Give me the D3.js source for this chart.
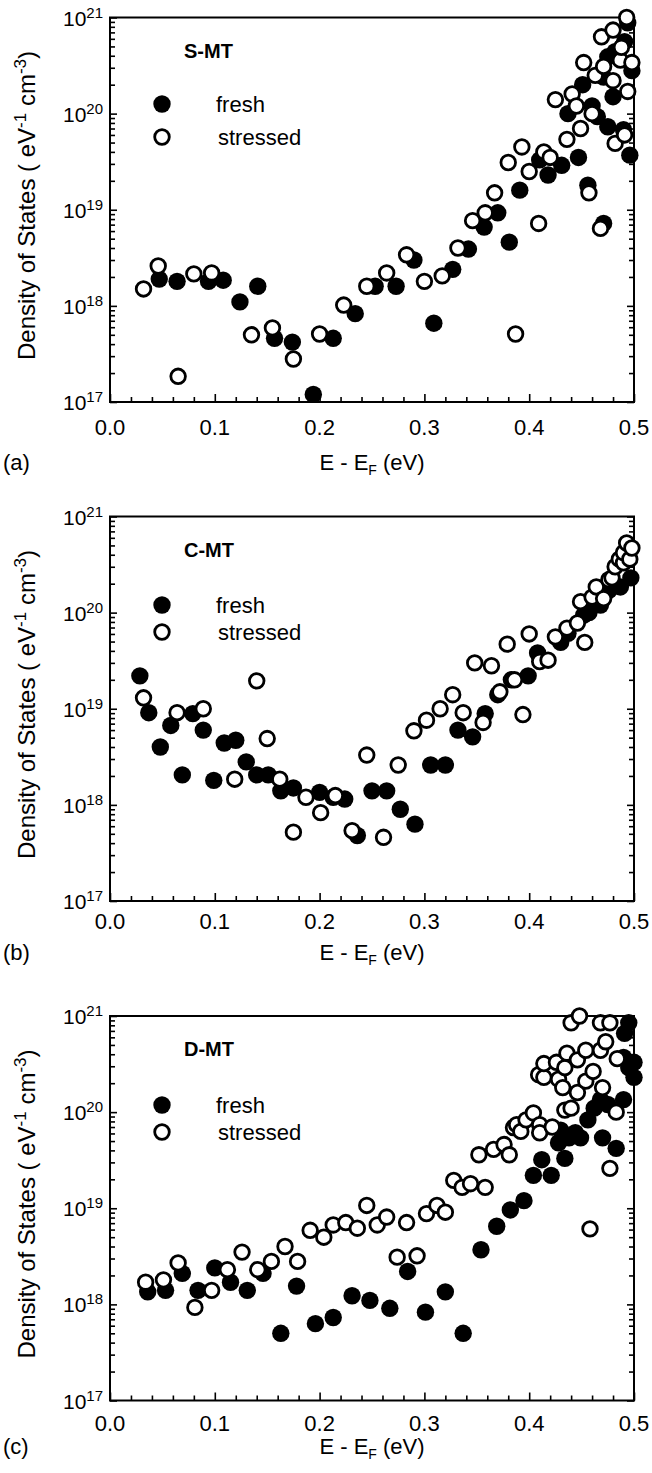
<!DOCTYPE html>
<html><head><meta charset="utf-8">
<script src="https://cdn.jsdelivr.net/npm/d3@7"></script>
<style>
body{margin:0;background:#fff}
text{font-family:Arial,"Liberation Sans",sans-serif;fill:#000}
</style>
</head><body>
<svg id="c" width="652" height="1473"></svg>
<script>
// ---------- data ----------
const panelLabels = ["(a)", "(b)", "(c)"];
const panelTitles = ["S-MT", "C-MT", "D-MT"];
const seriesNames = ["fresh", "stressed"];
const xTickValues = [0, 0.1, 0.2, 0.3, 0.4, 0.5];
const xTickLabels = ["0.0", "0.1", "0.2", "0.3", "0.4", "0.5"];
const yTickExponents = [17, 18, 19, 20, 21];

// Panel (a) S-MT
const aFreshE = [0.047,0.064,0.094,0.108,0.124,0.141,0.157,0.174,0.194,0.213,0.234,0.253,0.273,0.29,0.309,0.327,0.342,0.357,0.37,0.381,0.391,0.41,0.418,0.431,0.437,0.447,0.451,0.456,0.46,0.465,0.471,0.471,0.475,0.475,0.48,0.482,0.49,0.491,0.494,0.496,0.498];
const aFreshV = [1.9e18,1.8e18,1.8e18,1.85e18,1.1e18,1.6e18,4.6e17,4.2e17,1.2e17,4.6e17,8.3e17,1.6e18,1.6e18,3.0e18,6.6e17,2.4e18,3.9e18,6.6e18,9.3e18,4.6e18,1.6e19,3.3e19,2.3e19,2.9e19,1.0e20,3.5e19,2.0e20,1.8e19,1.2e20,9.3e19,7.2e18,2.4e20,7.3e19,3.9e20,1.5e20,4.4e20,6.8e19,5.6e20,8.8e20,3.7e19,2.8e20];
const aStressE = [0.032,0.046,0.065,0.08,0.097,0.135,0.155,0.175,0.2,0.223,0.245,0.264,0.283,0.30,0.317,0.332,0.346,0.358,0.367,0.38,0.387,0.393,0.40,0.409,0.414,0.42,0.425,0.436,0.441,0.445,0.449,0.452,0.457,0.46,0.463,0.468,0.469,0.471,0.48,0.48,0.482,0.487,0.488,0.491,0.493,0.494,0.498];
const aStressV = [1.5e18,2.6e18,1.85e17,2.15e18,2.2e18,5.0e17,5.9e17,2.8e17,5.1e17,1.02e18,1.6e18,2.2e18,3.4e18,1.8e18,2.05e18,4.0e18,7.7e18,9.3e18,1.5e19,3.1e19,5.1e17,4.5e19,2.5e19,7.2e18,4.0e19,3.5e19,1.4e20,5.4e19,1.6e20,1.2e20,7.0e19,3.4e20,1.5e19,1.0e20,2.5e20,6.4e18,6.3e20,3.1e20,2.2e20,7.4e20,4.9e19,3.6e20,4.9e20,6.0e19,1.0e21,1.7e20,3.4e20];

// Panel (b) C-MT
const bFreshE = [0.0285,0.037,0.048,0.058,0.069,0.079,0.089,0.099,0.109,0.12,0.13,0.14,0.151,0.163,0.175,0.2,0.213,0.224,0.236,0.25,0.264,0.277,0.291,0.306,0.32,0.332,0.346,0.358,0.37,0.383,0.399,0.408,0.43,0.437,0.452,0.457,0.468,0.476,0.487,0.497];
const bFreshV = [2.2e19,9.1e18,4.0e18,6.7e18,2.05e18,8.9e18,6.0e18,1.8e18,4.4e18,4.7e18,2.8e18,2.05e18,2.05e18,1.4e18,1.5e18,1.35e18,1.2e18,1.15e18,4.8e17,1.4e18,1.4e18,9.0e17,6.3e17,2.6e18,2.6e18,6.0e18,5.1e18,8.9e18,1.4e19,2.0e19,2.2e19,3.8e19,4.9e19,6.1e19,9.4e19,1.0e20,1.2e20,1.7e20,1.85e20,2.3e20];
const bStressE = [0.032,0.064,0.089,0.119,0.14,0.15,0.162,0.175,0.187,0.201,0.215,0.231,0.245,0.261,0.275,0.29,0.302,0.315,0.327,0.337,0.348,0.356,0.364,0.372,0.379,0.386,0.394,0.40,0.41,0.418,0.425,0.436,0.446,0.449,0.453,0.46,0.464,0.471,0.476,0.479,0.482,0.486,0.49,0.49,0.493,0.496,0.498];
const bStressV = [1.3e19,9.1e18,1.0e19,1.85e18,1.95e19,4.9e18,1.85e18,5.2e17,1.2e18,8.3e17,1.25e18,5.4e17,3.3e18,4.6e17,2.6e18,5.9e18,7.6e18,1.0e19,1.4e19,9.1e18,3.0e19,7.2e18,2.8e19,1.5e19,4.7e19,2.0e19,8.7e18,6.0e19,3.1e19,3.2e19,5.6e19,6.9e19,7.8e19,1.3e20,4.9e19,1.45e20,1.85e20,1.4e20,2.2e20,2.3e20,3.0e20,3.6e20,3.3e20,4.2e20,5.3e20,3.6e20,4.7e20];

// Panel (c) D-MT
const cFreshE = [0.036,0.053,0.069,0.084,0.1,0.115,0.131,0.146,0.163,0.178,0.196,0.213,0.231,0.248,0.267,0.284,0.301,0.32,0.337,0.354,0.369,0.382,0.395,0.404,0.412,0.421,0.428,0.43,0.434,0.438,0.444,0.449,0.456,0.462,0.468,0.47,0.475,0.483,0.49,0.49,0.491,0.495,0.495,0.5,0.5];
const cFreshV = [1.35e18,1.4e18,2.1e18,1.4e18,2.4e18,1.7e18,1.4e18,2.1e18,5.0e17,1.55e18,6.3e17,7.3e17,1.23e18,1.1e18,9.1e17,2.2e18,8.3e17,1.35e18,5.0e17,3.7e18,6.5e18,9.6e18,1.2e19,2.2e19,3.2e19,2.2e19,4.8e19,6.5e19,3.3e19,5.4e19,6.1e19,5.4e19,8.3e19,1.1e20,1.35e20,5.4e19,1.2e20,4.2e19,1.35e20,3.7e20,6.6e20,8.5e20,2.9e20,2.3e20,3.3e20];
const cStressE = [0.034,0.051,0.065,0.081,0.097,0.112,0.126,0.141,0.154,0.167,0.179,0.191,0.204,0.213,0.225,0.236,0.245,0.255,0.264,0.274,0.283,0.293,0.302,0.312,0.32,0.328,0.336,0.344,0.352,0.358,0.366,0.376,0.381,0.385,0.388,0.392,0.397,0.404,0.409,0.41,0.41,0.414,0.414,0.422,0.426,0.428,0.432,0.434,0.434,0.436,0.44,0.44,0.446,0.446,0.448,0.454,0.454,0.458,0.461,0.468,0.468,0.47,0.473,0.477,0.477,0.483,0.484];
const cStressV = [1.7e18,1.8e18,2.7e18,9.3e17,1.4e18,2.3e18,3.5e18,2.3e18,2.8e18,4.0e18,2.8e18,5.9e18,5.0e18,6.7e18,7.1e18,6.2e18,1.07e19,6.7e18,8.1e18,3.1e18,7.1e18,3.2e18,8.8e18,1.07e19,9.1e18,1.95e19,1.65e19,1.8e19,3.6e19,1.65e19,4.1e19,4.6e19,3.6e19,6.9e19,7.4e19,6.3e19,8.3e19,9.8e19,2.45e20,7.4e19,6.1e19,2.3e20,3.2e20,7.0e19,3.3e20,2.2e20,1.8e20,2.9e20,1.05e20,4.1e20,1.1e20,8.5e20,3.5e20,1.6e20,1.0e21,4.4e20,2.1e20,6.1e18,2.65e20,8.5e20,4.4e20,1.8e20,5.4e20,8.5e20,2.6e19,1.0e20,3.6e20];

const panelsData = [
  {fresh: d3.zip(aFreshE, aFreshV), stressed: d3.zip(aStressE, aStressV)},
  {fresh: d3.zip(bFreshE, bFreshV), stressed: d3.zip(bStressE, bStressV)},
  {fresh: d3.zip(cFreshE, cFreshV), stressed: d3.zip(cStressE, cStressV)}
];

// ---------- layout ----------
const L = 110, R = 634, H = 384.5;
const tops = [17.5, 516.5, 1016];
const legendY = [[86.5, 119.5], [88.5, 115.5], [89, 116]];
const tickLabelOff = [33, 28, 30];
const xTitleOff = [68, 59, 53];

const svg = d3.select("#c");

panelsData.forEach((pd, i) => {
  const top = tops[i], bottom = top + H;
  const x = d3.scaleLinear().domain([0, 0.5]).range([L, R]);
  const y = d3.scaleLog().domain([1e17, 1e21]).range([bottom, top]);
  const g = svg.append("g");

  const yMajor = yTickExponents.map(e => Math.pow(10, e));
  const yMinor = [];
  for (let e = 17; e < 21; e++) for (let k = 2; k <= 9; k++) yMinor.push(k * Math.pow(10, e));
  const xMinor = d3.range(0, 26).map(k => k * 0.02).filter(v => Math.abs(v * 10 - Math.round(v * 10)) > 1e-6);

  function styleAxis(sel) {
    sel.select(".domain").remove();
    sel.selectAll("line").attr("stroke", "#000").attr("stroke-width", 1.6);
    sel.selectAll("text").remove();
  }
  g.append("g").attr("transform", `translate(${L},0)`).call(d3.axisLeft(y).tickValues(yMajor).tickSize(-7)).call(styleAxis);
  g.append("g").attr("transform", `translate(${L},0)`).call(d3.axisLeft(y).tickValues(yMinor).tickSize(-5)).call(styleAxis);
  g.append("g").attr("transform", `translate(${R},0)`).call(d3.axisRight(y).tickValues(yMajor).tickSize(-7)).call(styleAxis);
  g.append("g").attr("transform", `translate(${R},0)`).call(d3.axisRight(y).tickValues(yMinor).tickSize(-5)).call(styleAxis);
  g.append("g").attr("transform", `translate(0,${bottom})`).call(d3.axisBottom(x).tickValues(xTickValues).tickSize(-8)).call(styleAxis);
  g.append("g").attr("transform", `translate(0,${bottom})`).call(d3.axisBottom(x).tickValues(xMinor).tickSize(-5)).call(styleAxis);

  // frame
  g.append("rect").attr("x", L).attr("y", top).attr("width", R - L).attr("height", H)
    .attr("fill", "none").attr("stroke", "#000").attr("stroke-width", 2);

  // y tick labels
  yTickExponents.forEach(e => {
    const t = g.append("text").attr("x", L - 7).attr("y", y(Math.pow(10, e)) + 8)
      .attr("text-anchor", "end").style("font-size", "21px");
    t.append("tspan").text("10");
    t.append("tspan").attr("dy", -8).style("font-size", "15px").text(String(e));
  });
  // x tick labels
  xTickValues.forEach((v, k) => {
    g.append("text").attr("x", x(v)).attr("y", bottom + tickLabelOff[i]).attr("text-anchor", "middle")
      .style("font-size", "22px").text(xTickLabels[k]);
  });

  // x title
  const xt = g.append("text").attr("x", (L + R) / 2).attr("y", bottom + xTitleOff[i]).attr("text-anchor", "middle").style("font-size", "22px");
  xt.append("tspan").text("E - E");
  xt.append("tspan").attr("dy", 5).style("font-size", "14px").text("F");
  xt.append("tspan").attr("dy", -5).text(" (eV)");
  g.append("text").attr("x", 3).attr("y", bottom + xTitleOff[i]).style("font-size", "22px").text(panelLabels[i]);

  // y title
  const yt = g.append("text").attr("transform", `translate(35,${top + 188}) rotate(-90)`)
    .attr("text-anchor", "middle").style("font-size", "24px");
  yt.append("tspan").text("Density of States ( eV");
  yt.append("tspan").attr("dy", -9).style("font-size", "17px").text("-1");
  yt.append("tspan").attr("dy", 9).text(" cm");
  yt.append("tspan").attr("dy", -9).style("font-size", "17px").text("-3");
  yt.append("tspan").attr("dy", 9).text(")");

  // title
  g.append("text").attr("x", 184).attr("y", top + 40).style("font-size", "20px").style("font-weight", "bold").text(panelTitles[i]);

  // legend
  const ly = legendY[i];
  g.append("circle").attr("cx", 162).attr("cy", top + ly[0]).attr("r", 8.7).attr("fill", "#000");
  g.append("circle").attr("cx", 162).attr("cy", top + ly[1]).attr("r", 7.3).attr("fill", "#fff").attr("stroke", "#000").attr("stroke-width", 2.8);
  g.append("text").attr("x", 216).attr("y", top + ly[0] + 8).style("font-size", "22px").text(seriesNames[0]);
  g.append("text").attr("x", 218).attr("y", top + ly[1] + 8).style("font-size", "22px").text(seriesNames[1]);

  // points
  g.append("g").selectAll("circle").data(pd.fresh).join("circle")
    .attr("cx", d => x(d[0])).attr("cy", d => y(d[1])).attr("r", 8.7).attr("fill", "#000");
  g.append("g").selectAll("circle").data(pd.stressed).join("circle")
    .attr("cx", d => x(d[0])).attr("cy", d => y(d[1])).attr("r", 7.3)
    .attr("fill", "#fff").attr("stroke", "#000").attr("stroke-width", 2.8);
});
</script>
</body></html>
